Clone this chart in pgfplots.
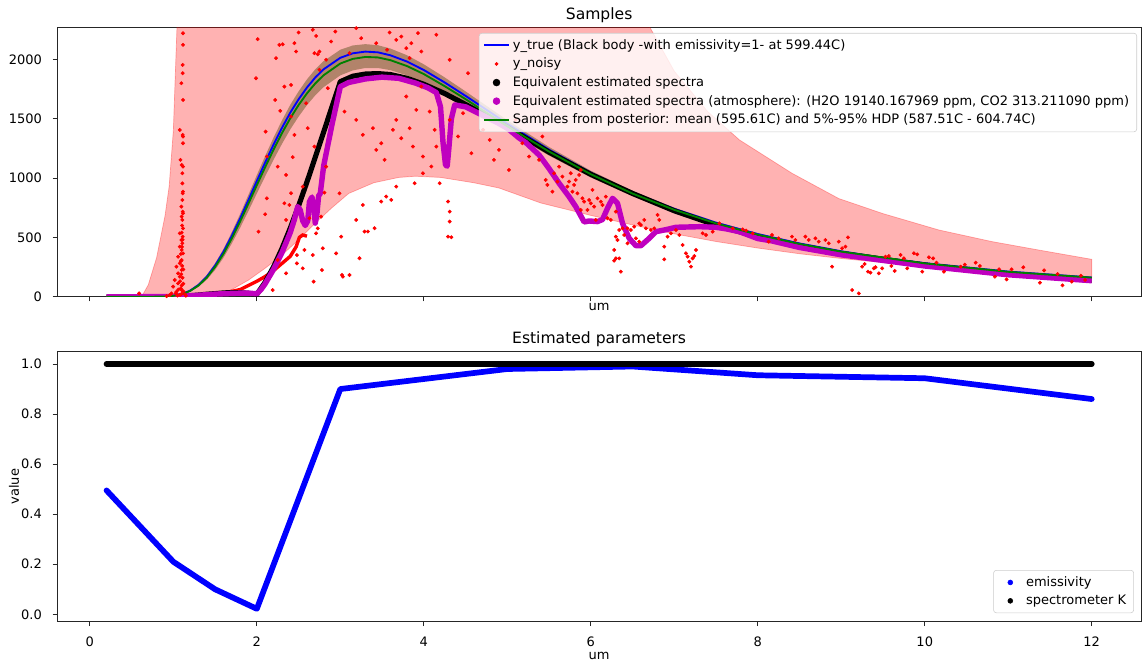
\documentclass[border=0pt]{standalone}
\usepackage{fontspec}
\setmainfont{DejaVu Sans}
\usepackage{pgfplots}
\pgfplotsset{compat=1.18}
\definecolor{mplblue}{RGB}{0,0,255}
\definecolor{mplgreen}{RGB}{0,128,0}
\definecolor{mplred}{RGB}{255,0,0}
\definecolor{mplmag}{RGB}{191,0,191}
\definecolor{bandbrown}{RGB}{178,131,106}
\newcommand{\fs}{\fontsize{9.1pt}{11pt}\selectfont}
\newcommand{\ft}{\fontsize{10.9pt}{13pt}\selectfont}
\pgfplotsset{
  common/.style={
    scale only axis, width=758.6pt,
    xmin=-0.39, xmax=12.59,
    axis line style={black!85, line width=0.6pt},
    tick align=outside, tick pos=left,
    major tick length=3.2pt,
    tick style={black!85, line width=0.6pt},
    xtick={0,2,...,12},
    /pgf/number format/assume math mode=true,
    /pgf/number format/1000 sep={},
    ticklabel style={font=\fs},
    xticklabel style={anchor=base, inner sep=0pt, yshift=-14pt},
    yticklabel style={anchor=east, inner sep=0pt, xshift=-7.4pt},
    every axis title/.style={font=\ft, anchor=base, inner sep=0pt},
    every axis x label/.style={font=\fs, anchor=base, inner sep=0pt},
    every axis y label/.style={font=\fs, anchor=base, inner sep=0pt, rotate=90},
    legend cell align=left,
  },
  dotimg/.style={#1, mark=*, draw opacity=0, mark options={draw opacity=1, fill opacity=1, fill=#1, draw=#1}},
}
\begin{document}
\begin{tikzpicture}
\path[use as bounding box] (-40.1pt,19.1pt) rectangle (760pt,-447.8pt);
% ---------------- TOP -----------------
\begin{axis}[common, at={(0pt,0pt)}, anchor=north west, height=188.6pt,
  ymin=0, ymax=2270, ytick={0,500,1000,1500,2000},
  xticklabels={},
  title={Samples},
  title style={at={(axis description cs:0.5,1.0282)}},
  xlabel={um},
  xlabel style={at={(axis description cs:0.5,-0.050)}},
  legend style={at={(0.9963,0.979)}, anchor=north east, draw=black!20, fill=white,
    fill opacity=0.8, text opacity=1, draw opacity=1, rounded corners=2pt, font=\fs,
    inner xsep=3pt, inner ysep=2pt, nodes={inner sep=2.3pt}},
]
% pink region
\addplot[draw=mplred, draw opacity=0.3, fill=mplred, fill opacity=0.3, line width=0.5pt, forget plot] coordinates {
(0.62,0) (0.7,100) (0.8,330) (0.9,680) (0.95,930) (1.0,1400) (1.03,2000) (1.06,2600) (1.1,3200)
(6.3,3200) (6.5,2600) (6.7,2280) (7.0,1900) (7.4,1560) (7.78,1321) (8.41,1040) (8.97,827)
(9.5,700) (10.17,562) (10.8,465) (11.36,394) (12,315)
(12,160) (11.5,183) (11,207) (10.5,231) (10,258) (9.5,288) (9,322) (8.5,362) (8,410) (7.5,465)
(7,530) (6.5,605) (6,685) (5.4,790) (4.9,916) (4.6,960) (4.2,1005) (3.9,1015) (3.7,1005)
(3.4,960) (3.1,870) (2.9,750) (2.7,620) (2.5,480) (2.3,350) (2.1,240) (1.9,140) (1.7,60)
(1.5,15) (1.3,0) (0.62,0)} -- cycle;
% posterior band
\addplot[draw=none, fill=bandbrown, forget plot] coordinates {
(0.8,0.45) (0.9,2.2) (1.0,8.8) (1.1,25) (1.2,55) (1.3,107) (1.4,181) (1.5,281) (1.6,402)
(1.7,544) (1.8,697) (1.9,860) (2.0,1025) (2.1,1186) (2.2,1340) (2.3,1484) (2.4,1616)
(2.5,1730) (2.6,1831) (2.7,1916) (2.8,1985) (3.0,2081) (3.15,2117) (3.3,2128) (3.45,2119)
(3.6,2091) (3.8,2034) (4.0,1958) (4.25,1848) (4.5,1730) (5.0,1487) (5.5,1262) (6.0,1062)
(6.5,893) (7.0,751) (7.5,632) (8.0,535) (8.5,454) (9,387) (10,286) (11,214) (12,163)
(12,158) (11,206) (10,275) (9,372) (8.5,436) (8.0,512) (7.5,604) (7.0,715) (6.5,847)
(6.0,1004) (5.5,1189) (5.0,1393) (4.5,1607) (4.25,1710) (4.0,1804) (3.8,1865) (3.6,1909)
(3.45,1927) (3.3,1927) (3.15,1907) (3.0,1865) (2.8,1766) (2.7,1697) (2.6,1614) (2.5,1517)
(2.4,1409) (2.3,1286) (2.2,1154) (2.1,1014) (2.0,870) (1.9,723) (1.8,581) (1.7,448)
(1.6,328) (1.5,226) (1.4,143) (1.3,83) (1.2,42) (1.1,18.7) (1.0,6.4) (0.9,1.7) (0.8,0.3)} -- cycle;
% y_true
\addplot[mplblue, line width=1.3pt, forget plot] coordinates {
(0.2,0) (0.6,0) (0.8,0.4) (0.9,2.2) (1.0,8) (1.1,23) (1.2,51) (1.3,99) (1.4,169) (1.5,263)
(1.6,378) (1.7,513) (1.8,660) (1.9,816) (2.0,975) (2.1,1131) (2.2,1281) (2.3,1421) (2.4,1550)
(2.5,1663) (2.6,1762) (2.7,1847) (2.8,1916) (3.0,2013) (3.15,2051) (3.3,2065) (3.45,2059)
(3.6,2034) (3.8,1981) (4.0,1910) (4.25,1805) (4.5,1692) (5.0,1458) (5.5,1239) (6.0,1045)
(6.5,879) (7.0,740) (7.5,624) (8.0,528) (8.5,449) (9,383) (9.5,328) (10,283) (11,212) (12,162)};
% y_noisy scattered
\addplot[only marks, mark=*, mark size=1.15pt, mplred, forget plot] coordinates {
(1.116,2220) (1.116,2122) (1.112,1953) (1.112,1883) (1.096,1799) (1.116,1658) (1.077,1405)
(1.112,1363) (1.116,1349) (1.116,1293) (1.085,1153) (1.100,1110) (1.116,1096) (1.108,1040)
(1.108,955) (1.116,885) (1.112,871) (1.108,815) (1.096,759) (1.112,717) (1.116,703) (1.100,675)
(1.108,647) (1.116,576) (1.077,534) (1.112,506) (1.096,478) (1.108,450) (1.077,422) (1.100,394)
(1.116,365) (1.057,337) (1.100,309) (1.077,281) (1.037,253) (1.100,225) (1.057,197) (1.077,169)
(1.017,141) (1.057,113) (0.997,85) (1.100,56) (1.037,42) (0.977,28) (0.957,14) (0.59,28)
(1.09,300) (1.105,260) (1.12,230) (1.095,190) (1.11,160) (1.08,130) (1.12,110) (1.10,95)
(1.09,70) (1.06,60) (1.12,45) (1.03,30) (1.10,25) (1.08,15) (1.05,10) (1.14,20) (1.15,8)
(0.92,5) (1.09,360) (1.104,420) (1.112,480) (1.10,540) (1.105,600)
(2.01,2170) (2.23,2010) (2.27,2122) (2.31,2127) (2.45,2136) (2.47,2066) (2.69,2052) (2.73,2043)
(2.75,2066) (2.50,2226) (2.67,2249) (2.94,2234) (2.89,2150) (2.71,2197) (2.33,1770) (2.41,1784)
(2.22,1658) (2.105,1391) (2.28,1566) (2.41,1518) (2.61,1420) (2.45,1363) (2.25,1096) (2.35,1026)
(2.43,1176) (2.69,1265) (2.12,1181) (2.12,829) (2.10,695) (2.02,548) (2.33,787) (2.39,773)
(2.35,647) (2.55,927) (2.63,661) (2.83,1096) (2.99,871) (2.81,877) (2.73,576) (2.71,534)
(2.48,351) (2.57,394) (2.67,351) (2.79,408) (2.95,365) (3.02,183) (2.55,239) (2.78,225)
(2.68,127) (2.19,56) (2.48,281)
(3.19,2263) (3.25,2178) (3.43,2136) (3.59,2226) (3.67,2164) (3.73,2192) (3.79,2094) (3.85,2136)
(3.93,2221) (3.97,2066) (3.83,2010) (3.56,2080) (3.11,2052) (4.15,2207) (4.31,1996)
(2.75,1912) (2.83,1996) (2.85,1757) (3.05,1560) (3.19,1490) (3.27,1364) (3.39,1420) (3.43,1237)
(3.49,1293) (3.53,1153) (3.63,1406) (3.67,1490) (3.73,1335) (3.79,1687) (3.83,1420) (3.91,1574)
(3.97,1771) (4.07,1560) (4.13,1406) (3.87,1265) (3.99,1181) (4.09,1097) (4.15,1265) (4.31,1490)
(4.41,1350) (4.47,1546) (4.53,1883) (4.57,1209) (4.71,1406) (4.79,1321) (4.84,1153) (4.90,1237)
(5.02,1068) (5.10,1490) (5.18,1293) (5.26,1181) (5.38,1153) (5.42,1350) (1.99,1841) (2.59,1630)
(2.77,675) (3.01,506) (3.19,647) (3.27,773) (3.29,549) (3.41,577) (3.49,802) (3.55,844)
(3.61,816) (3.67,928) (3.89,956) (3.99,1040) (4.19,956) (4.29,802) (4.31,717) (4.31,633)
(4.29,506) (4.33,501) (3.11,183) (3.03,169) (3.33,549) (3.23,324) (2.41,872) (2.35,197) (2.25,310)
(5.46,984) (5.48,942) (5.54,885) (5.56,1040) (5.60,970) (5.62,1096) (5.66,1012) (5.72,928)
(5.74,970) (5.76,1040) (5.78,885) (5.80,942) (5.82,984) (5.86,1026) (5.88,1068) (5.84,871)
(5.90,829) (5.92,801) (5.98,815) (6.00,787) (6.02,900) (6.04,759) (6.08,829) (6.12,801)
(6.14,773) (6.18,843) (5.96,731) (5.88,731) (6.06,647) (6.20,661) (6.24,647) (6.30,717)
(6.34,562) (6.38,576) (6.40,520) (6.44,576) (6.48,562) (6.52,590) (6.58,618) (6.60,604)
(6.64,647) (6.66,576) (6.72,562) (6.76,576) (6.80,689) (6.82,647) (6.54,492) (6.58,464)
(6.44,450) (6.30,506) (6.32,478) (6.28,394) (6.30,323) (6.34,323) (6.28,304) (6.36,211)
(6.88,422) (6.88,315) (6.92,506) (7.06,520) (7.10,436) (7.14,366) (7.16,338) (7.18,295)
(7.20,253) (7.22,323) (7.24,343) (7.26,394) (7.34,534) (7.46,548) (7.54,618) (7.70,576)
(7.82,568) (7.86,557) (7.94,534) (8.17,520) (8.13,464) (8.25,492) (8.41,506) (8.45,478)
(8.57,506) (8.61,478) (8.69,492) (8.73,464) (8.81,478) (8.85,450) (8.89,253) (7.38,520)
(7.02,562) (6.96,534)
(8.97,464) (9.01,408) (9.05,422) (9.08,500) (9.13,56) (9.21,28) (9.25,253) (9.28,276)
(9.32,211) (9.35,203) (9.39,239) (9.41,248) (9.45,197) (9.49,239) (9.53,337) (9.57,343)
(9.60,259) (9.64,217) (9.71,352) (9.75,323) (9.79,239) (9.87,366) (9.91,357) (9.97,211)
(10.05,332) (10.10,323) (10.14,287) (10.23,211) (10.43,253) (10.48,270) (10.61,287) (10.66,259)
(10.84,169) (10.89,231) (10.98,146) (11.04,231) (11.18,248) (11.38,118) (11.43,222) (11.59,191)
(11.65,96) (11.76,127) (11.87,177) (11.92,141)};
% y_noisy dense part
\addplot[mplred, line width=2.4pt, forget plot] coordinates {
(0.2,0) (1.0,1) (1.2,3) (1.4,12) (1.6,30) (1.8,60) (1.9,95) (2.0,130) (2.1,170) (2.2,220)
(2.3,280) (2.4,340) (2.47,420) (2.51,500) (2.55,520) (2.6,510)};
% equivalent estimated spectra
\addplot[black, line width=3.6pt, line join=round, forget plot] coordinates {
(0.2,0) (0.6,0) (0.8,0.1) (1.0,1.7) (1.1,4.3) (1.2,8.5) (1.3,14) (1.4,21) (1.5,26) (1.6,32)
(1.7,35) (1.8,34) (1.9,29) (2.0,20) (2.1,122) (2.2,251) (2.3,404) (2.4,577) (2.5,765) (2.6,966)
(2.7,1175) (2.8,1387) (3.0,1812) (3.15,1858) (3.3,1876) (3.45,1880) (3.6,1872) (3.8,1840)
(4.0,1790) (4.25,1712) (4.5,1620) (5.0,1429) (5.5,1218) (6.0,1031) (6.5,870) (7.0,724)
(7.5,603) (8.0,504) (8.5,428) (9,364) (10,267) (11,191) (12,139)};
% atmosphere
\addplot[mplmag, line width=3.8pt, line join=round, forget plot] coordinates {
(0.2,0) (0.6,0) (1.0,2) (1.3,12) (1.5,22) (1.7,28) (1.8,30) (1.9,30) (2.0,25) (2.05,60)
(2.1,110) (2.2,230) (2.3,370) (2.4,540) (2.45,650) (2.49,760) (2.52,730) (2.55,640) (2.58,600)
(2.61,640) (2.63,800) (2.66,840) (2.68,760) (2.70,620) (2.72,700) (2.74,850) (2.76,870)
(2.8,1100) (2.9,1450) (3.0,1770) (3.1,1805) (3.3,1835) (3.5,1850) (3.7,1840) (3.9,1800)
(4.05,1760) (4.15,1720) (4.2,1600) (4.23,1300) (4.26,1110) (4.28,1100) (4.30,1250) (4.33,1500)
(4.37,1616) (4.5,1600) (4.7,1530) (4.9,1460) (5.0,1420) (5.14,1338) (5.22,1300) (5.38,1195)
(5.5,1080) (5.62,956) (5.74,843) (5.82,759) (5.92,630) (5.98,638) (6.08,633) (6.14,650)
(6.20,745) (6.26,829) (6.32,787) (6.38,618) (6.46,492) (6.54,430) (6.60,430) (6.70,492)
(6.78,548) (6.90,565) (7.02,585) (7.30,590) (7.5,585) (7.62,572) (7.78,548) (8.0,490)
(8.17,470) (8.5,415) (9.0,353) (10,259) (11,185) (12,135)};
% posterior mean
\addplot[mplgreen, line width=1.3pt, forget plot] coordinates {
(0.2,0) (0.6,0) (0.8,0.4) (0.9,2) (1.0,7.5) (1.1,21.5) (1.2,48) (1.3,93.6) (1.4,160) (1.5,251)
(1.6,361) (1.7,491) (1.8,634) (1.9,785) (2.0,940) (2.1,1092) (2.2,1239) (2.3,1377) (2.4,1503)
(2.5,1615) (2.6,1713) (2.7,1797) (2.8,1866) (3.0,1965) (3.15,2004) (3.3,2020) (3.45,2016)
(3.6,1993) (3.8,1943) (4.0,1876) (4.25,1774) (4.5,1665) (5.0,1436) (5.5,1223) (6.0,1032)
(6.5,869) (7.0,732) (7.5,618) (8.0,523) (8.5,445) (9,380) (10,281) (11,210) (12,161)};
% legend
\addlegendimage{mplblue, line width=1.3pt}
\addlegendentry{y\_true (Black body -with emissivity=1- at 599.44C)}
\addlegendimage{dotimg=mplred, mark size=1.1pt}
\addlegendentry{y\_noisy}
\addlegendimage{dotimg=black, mark size=2.4pt}
\addlegendentry{Equivalent estimated spectra}
\addlegendimage{dotimg=mplmag, mark size=2.4pt}
\addlegendentry{Equivalent estimated spectra (atmosphere): (H2O 19140.167969 ppm, CO2 313.211090 ppm)}
\addlegendimage{mplgreen, line width=1.3pt}
\addlegendentry{Samples from posterior: mean (595.61C) and 5\%-95\% HDP (587.51C - 604.74C)}
\end{axis}
% ---------------- BOTTOM -----------------
\begin{axis}[common, at={(0pt,-227.1pt)}, anchor=north west, height=188.9pt,
  ymin=-0.029, ymax=1.049, ytick={0,0.2,0.4,0.6,0.8,1.0},
  yticklabel style={/pgf/number format/.cd, fixed, fixed zerofill, precision=1},
  title={Estimated parameters},
  title style={at={(axis description cs:0.5,1.0297)}},
  xlabel={um},
  xlabel style={at={(axis description cs:0.5,-0.1408)}},
  ylabel={value},
  ylabel style={at={(axis description cs:-0.0355,0.5)}},
  legend style={at={(0.9935,0.0315)}, anchor=south east, draw=black!20, fill=white,
    fill opacity=0.8, text opacity=1, draw opacity=1, rounded corners=2pt, font=\fs,
    inner xsep=3pt, inner ysep=2pt, nodes={inner sep=2.3pt}},
]
\addplot[mplblue, line width=4pt, line join=round, line cap=round, forget plot] coordinates {
(0.2,0.495) (1.0,0.21) (1.5,0.10) (2.0,0.022) (3.0,0.90) (5.0,0.98) (6.5,0.99) (8.0,0.955)
(10.0,0.943) (12.0,0.86)};
\addplot[black, line width=4pt, line cap=round, forget plot] coordinates {(0.2,1.0) (12.0,1.0)};
\addlegendimage{dotimg=mplblue, mark size=1.7pt}
\addlegendentry{emissivity}
\addlegendimage{dotimg=black, mark size=1.7pt}
\addlegendentry{spectrometer K}
\end{axis}
\end{tikzpicture}
\end{document}
